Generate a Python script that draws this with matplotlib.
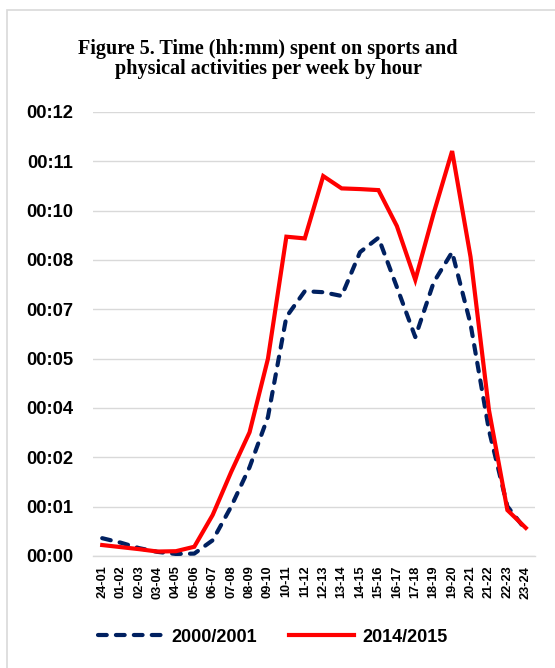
import numpy as np
import matplotlib
matplotlib.use("Agg")
import matplotlib.pyplot as plt
from matplotlib.ticker import FuncFormatter, FixedLocator
from matplotlib.patches import Rectangle

# ── Data (minutes per week) ─────────────────────────────────────────────
hours = ["24-01", "01-02", "02-03", "03-04", "04-05", "05-06", "06-07", "07-08",
         "08-09", "09-10", "10-11", "11-12", "12-13", "13-14", "14-15", "15-16",
         "16-17", "17-18", "18-19", "19-20", "20-21", "21-22", "22-23", "23-24"]
y2000 = [0.52, 0.39, 0.23, 0.12, 0.06, 0.07, 0.46, 1.44, 2.59, 4.06, 6.98, 7.73,
         7.70, 7.59, 8.87, 9.29, 7.85, 6.39, 7.99, 8.87, 6.77, 3.67, 1.45, 0.76]
y2014 = [0.32, 0.26, 0.20, 0.13, 0.14, 0.27, 1.20, 2.45, 3.61, 5.76, 9.32, 9.27,
         11.09, 10.73, 10.71, 10.68, 9.63, 8.06, 10.01, 11.82, 8.73, 4.26, 1.34, 0.82]
labels = ["2000/2001", "2014/2015"]

# Excel time axis: major unit 0.001 day = 1.44 min
ytick_min = [i * 1.44 for i in range(10)]

BLUE = "#002060"
RED = "#ff0000"
GRID = "#d9d9d9"
SANS = "Liberation Sans"
SERIF = "Liberation Serif"


def hhmm(v, pos=None):
    secs = int(round(v * 60))
    return f"{secs // 3600:02d}:{(secs // 60) % 60:02d}"


fig = plt.figure(figsize=(5.55, 6.68), dpi=100)
ax = fig.add_axes([93 / 555, 1 - 556 / 668, 442 / 555, 444 / 668])

x = np.arange(len(hours))
ax.plot(x, y2000, color=BLUE, linewidth=3.0, linestyle=(0, (2.1, 2.2)),
        dash_capstyle="round", label=labels[0], zorder=3)
ax.plot(x, y2014, color=RED, linewidth=3.0, solid_joinstyle="miter",
        label=labels[1], zorder=4)

ax.set_xlim(-0.5, len(hours) - 0.5)
ax.set_ylim(0, ytick_min[-1])
ax.set_xticks(x)
ax.set_xticklabels(hours, rotation=90, fontsize=9.2, fontweight="bold", family=SANS)
ax.yaxis.set_major_locator(FixedLocator(ytick_min))
ax.yaxis.set_major_formatter(FuncFormatter(hhmm))
ax.tick_params(axis="x", length=0, pad=7)
ax.tick_params(axis="y", length=0, pad=14, labelsize=13.2)
for t in ax.get_yticklabels():
    t.set_fontfamily(SANS)
    t.set_fontweight("bold")
ax.grid(axis="y", color=GRID, linewidth=1.0)
ax.set_axisbelow(True)
for s in ax.spines.values():
    s.set_visible(False)
ax.spines["bottom"].set_visible(True)
ax.spines["bottom"].set_color(GRID)
ax.spines["bottom"].set_linewidth(1.0)

fig.text(268 / 555, 1 - 59 / 668,
         "Figure 5. Time (hh:mm) spent on sports and\nphysical activities per week by hour",
         ha="center", va="center", fontsize=14.5, fontweight="bold", family=SERIF,
         linespacing=1.05)

leg = fig.legend(loc="center", bbox_to_anchor=(273 / 555, 1 - 637 / 668), ncol=2,
                 frameon=False, handlelength=3.6, handletextpad=0.45,
                 columnspacing=1.8, prop={"family": SANS, "weight": "bold", "size": 13})

# chart area border
fig.patches.append(Rectangle((7 / 555, -0.05), 1.1, 1 - 10 / 668 + 0.05,
                             transform=fig.transFigure, fill=False,
                             edgecolor=GRID, linewidth=1.2))

fig.savefig("out.png", dpi=100, facecolor="white")
